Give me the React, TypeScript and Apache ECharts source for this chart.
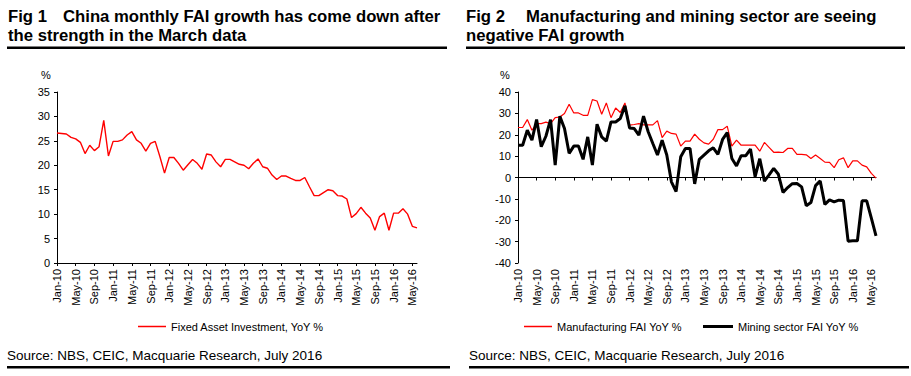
import React, { useEffect, useRef } from "react";
import * as echarts from "echarts";

const MONTHS = ["Jan", "Feb", "Mar", "Apr", "May", "Jun", "Jul", "Aug", "Sep", "Oct", "Nov", "Dec"];
const YEARS = ["10", "11", "12", "13", "14", "15", "16"];
const categories: string[] = [];
YEARS.forEach((y) => MONTHS.forEach((m) => categories.push(`${m}-${y}`)));
const CATS = categories.slice(0, 78); // Jan-10 .. Jun-16

const faiYoY = [
  26.6, 26.5, 26.4, 25.7, 25.4, 24.7, 22.4, 24.1, 23.0, 23.8, 29.2, 21.9,
  24.9, 24.9, 25.2, 26.2, 26.9, 25.2, 24.5, 22.9, 24.5, 24.9, 21.8, 18.4,
  21.6, 21.6, 20.4, 19.0, 20.1, 21.2, 20.4, 19.2, 22.3, 22.1, 20.7, 19.7,
  21.2, 21.2, 20.7, 20.2, 20.0, 19.3, 20.4, 21.3, 19.7, 19.4, 18.0, 17.1,
  17.8, 17.8, 17.3, 16.9, 16.9, 17.5, 15.6, 13.8, 13.8, 14.4, 15.0, 14.8,
  13.8, 13.7, 13.1, 9.3, 10.1, 11.4, 10.2, 9.2, 6.7, 9.5, 10.2, 6.7,
  10.2, 10.2, 11.1, 10.0, 7.5, 7.2,
];

const manufacturingYoY = [
  23.4, 23.4, 27.1, 22.1, 25.2, 25.2, 25.9, 25.2, 28.0, 28.3, 29.9, 34.3,
  30.2, 30.2, 29.1, 29.1, 36.4, 35.8, 29.6, 34.9, 28.0, 32.5, 30.4, 34.9,
  24.5, 24.8, 25.2, 24.6, 24.6, 24.6, 26.6, 18.7, 21.7, 20.6, 20.3, 14.7,
  17.0, 17.0, 20.3, 17.9, 16.2, 15.6, 17.9, 22.4, 22.4, 24.0, 14.7, 17.5,
  15.1, 15.1, 15.1, 15.1, 12.3, 16.4, 14.1, 11.8, 11.9, 11.7, 13.6, 13.6,
  10.8, 10.8, 10.6, 8.9, 10.5, 8.9, 7.2, 7.1, 4.6, 8.3, 9.2, 4.6,
  7.8, 7.8, 5.8, 5.0, 1.9, -0.3,
];

const miningYoY = [
  15.1, 15.1, 22.1, 17.5, 27.1, 14.4, 19.3, 27.1, 5.8, 28.7, 22.9, 11.3,
  14.7, 14.7, 8.5, 19.0, 5.8, 24.9, 19.0, 17.0, 26.0, 26.0, 27.6, 33.5,
  23.2, 22.9, 19.8, 28.7, 21.4, 15.9, 10.5, 17.5, 10.5, -2.0, -6.6, 9.7,
  13.6, 13.6, -3.0, 8.5, 10.5, 12.5, 13.9, 10.8, 17.8, 21.0, 8.9, 5.4,
  10.2, 10.2, 13.3, 0.4, 8.8, -1.7, 1.2, 4.3, 1.5, -7.0, -4.7, -2.9,
  -2.8, -4.4, -13.2, -11.7, -3.8, -1.6, -12.6, -10.5, -11.4, -10.6, -10.8, -29.8,
  -29.6, -29.6, -10.9, -10.9, -19.0, -27.3,
];

const FONT = "'Liberation Sans', Arial, sans-serif";

export default function App() {
  const ref = useRef<HTMLDivElement>(null);

  useEffect(() => {
    if (!ref.current) return;
    const chart = echarts.init(ref.current, undefined, { renderer: "svg" });

    const axisLabelStyle = { color: "#000", fontSize: 11, fontFamily: FONT };
    const xLabel = { ...axisLabelStyle, rotate: 90, interval: 3, margin: 6 };
    const legendText = { color: "#000", fontSize: 11, fontFamily: FONT };
    const titleFont = `bold 16.7px ${FONT}`;
    const sourceFont = `13.5px ${FONT}`;

    const option: any = {
      animation: false,
      backgroundColor: "#fff",
      textStyle: { fontFamily: FONT },
      grid: [
        { left: 57, top: 92, width: 360, height: 171 },
        { left: 518, top: 92, width: 358, height: 171 },
      ],
      xAxis: [
        {
          type: "category",
          gridIndex: 0,
          data: CATS,
          boundaryGap: false,
          axisLine: { lineStyle: { color: "#000", width: 1 } },
          axisTick: { show: true, interval: 3, length: 3, lineStyle: { color: "#000" } },
          axisLabel: xLabel,
          splitLine: { show: false },
        },
        {
          type: "category",
          gridIndex: 1,
          position: "bottom",
          data: CATS,
          boundaryGap: false,
          axisLine: { show: false, onZero: false },
          axisTick: { show: false },
          axisLabel: xLabel,
          splitLine: { show: false },
        },
        {
          type: "category",
          gridIndex: 1,
          position: "bottom",
          data: CATS,
          boundaryGap: false,
          axisLine: { show: true, onZero: true, lineStyle: { color: "#000", width: 1 } },
          axisTick: { show: true, interval: 3, length: 3, lineStyle: { color: "#000" } },
          axisLabel: { show: false },
          splitLine: { show: false },
        },
      ],
      yAxis: [
        {
          type: "value",
          gridIndex: 0,
          min: 0,
          max: 35,
          interval: 5,
          axisLine: { show: true, lineStyle: { color: "#000", width: 1 } },
          axisTick: { show: true, length: 3, lineStyle: { color: "#000" } },
          axisLabel: { ...axisLabelStyle, margin: 7 },
          splitLine: { show: false },
        },
        {
          type: "value",
          gridIndex: 1,
          min: -40,
          max: 40,
          interval: 10,
          axisLine: { show: true, lineStyle: { color: "#000", width: 1 } },
          axisTick: { show: true, length: 3, lineStyle: { color: "#000" } },
          axisLabel: { ...axisLabelStyle, margin: 7 },
          splitLine: { show: false },
        },
      ],
      legend: [
        {
          left: 138,
          top: 321,
          padding: 0,
          icon: "rect",
          itemWidth: 28,
          itemHeight: 1.5,
          data: ["Fixed Asset Investment, YoY %"],
          textStyle: legendText,
        },
        {
          left: 524,
          top: 321,
          padding: 0,
          icon: "rect",
          itemWidth: 28,
          itemHeight: 1.5,
          data: ["Manufacturing FAI YoY %"],
          textStyle: legendText,
        },
        {
          left: 703,
          top: 321,
          padding: 0,
          icon: "rect",
          itemWidth: 30,
          itemHeight: 3,
          data: ["Mining sector FAI YoY %"],
          textStyle: legendText,
        },
      ],
      series: [
        {
          name: "Fixed Asset Investment, YoY %",
          type: "line",
          xAxisIndex: 0,
          yAxisIndex: 0,
          data: faiYoY,
          symbol: "none",
          lineStyle: { color: "#ff0000", width: 1.4 },
          itemStyle: { color: "#ff0000" },
        },
        {
          name: "Manufacturing FAI YoY %",
          type: "line",
          xAxisIndex: 1,
          yAxisIndex: 1,
          data: manufacturingYoY,
          symbol: "none",
          lineStyle: { color: "#ff0000", width: 1.2 },
          itemStyle: { color: "#ff0000" },
        },
        {
          name: "Mining sector FAI YoY %",
          type: "line",
          xAxisIndex: 1,
          yAxisIndex: 1,
          data: miningYoY,
          symbol: "none",
          lineStyle: { color: "#000000", width: 3 },
          itemStyle: { color: "#000000" },
          z: 3,
        },
      ],
      graphic: [
        { type: "text", left: 8, top: 8, style: { text: "Fig 1", fill: "#000", font: titleFont } },
        { type: "text", left: 63, top: 8, style: { text: "China monthly FAI growth has come down after", fill: "#000", font: titleFont } },
        { type: "text", left: 8, top: 26.5, style: { text: "the strength in the March data", fill: "#000", font: titleFont } },
        { type: "rect", shape: { x: 7, y: 46.5, width: 440, height: 2.5 }, style: { fill: "#000" } },
        { type: "text", left: 466, top: 8, style: { text: "Fig 2", fill: "#000", font: titleFont } },
        { type: "text", left: 526, top: 8, style: { text: "Manufacturing and mining sector are seeing", fill: "#000", font: titleFont } },
        { type: "text", left: 466, top: 26.5, style: { text: "negative FAI growth", fill: "#000", font: titleFont } },
        { type: "rect", shape: { x: 466, y: 46.5, width: 439, height: 2.5 }, style: { fill: "#000" } },
        { type: "text", left: 41, top: 69, style: { text: "%", fill: "#000", font: `11px ${FONT}` } },
        { type: "text", left: 500, top: 69, style: { text: "%", fill: "#000", font: `11px ${FONT}` } },
        { type: "text", left: 7, top: 348.5, style: { text: "Source: NBS, CEIC, Macquarie Research, July 2016", fill: "#000", font: sourceFont } },
        { type: "rect", shape: { x: 7, y: 366, width: 443, height: 2.5 }, style: { fill: "#000" } },
        { type: "text", left: 469, top: 348.5, style: { text: "Source: NBS, CEIC, Macquarie Research, July 2016", fill: "#000", font: sourceFont } },
        { type: "rect", shape: { x: 469, y: 366, width: 440, height: 2.5 }, style: { fill: "#000" } },
      ],
    };

    chart.setOption(option);
    return () => chart.dispose();
  }, []);

  return (
    <div
      ref={ref}
      style={{ position: "absolute", left: 0, top: 0, width: 911, height: 376, background: "#fff" }}
    />
  );
}
